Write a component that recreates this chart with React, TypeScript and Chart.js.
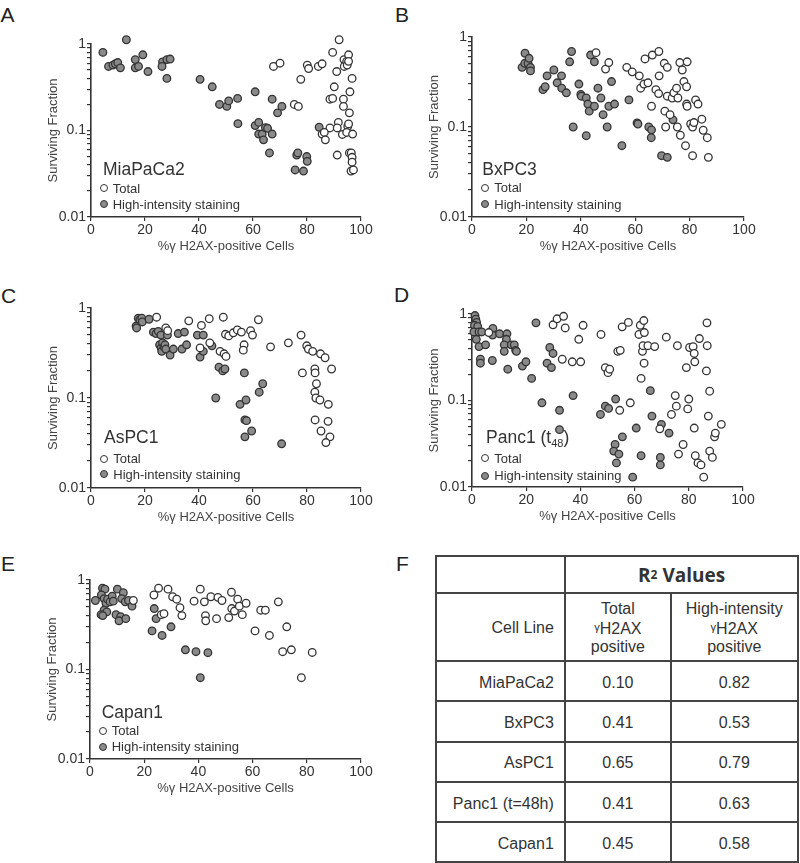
import React, { useEffect, useRef } from "react";
import { Chart, registerables } from "chart.js";

Chart.register(...registerables);

const FONT = '"Liberation Sans", Arial, Helvetica, sans-serif';

// ---- axes / labels ----
const xTickValues = [0, 20, 40, 60, 80, 100];
const yTickValues = [0.01, 0.02, 0.03, 0.04, 0.05, 0.06, 0.07, 0.08, 0.09, 0.1, 0.2, 0.3, 0.4, 0.5, 0.6, 0.7, 0.8, 0.9, 1];
const yLabelValues = [0.01, 0.1, 1];
const yLabelTexts = ["0.01", "0.1", "1"];
const xTitle = "%γ H2AX-positive Cells";
const yTitle = "Surviving Fraction";
const legendTotal = "Total";
const legendHigh = "High-intensity staining";

// ---- A: MiaPaCa2 ----
const miaHighX = [4.4, 13.1, 6.5, 8.1, 9.0, 9.9, 10.9, 16.4, 16.4, 17.6, 19.2, 21.1, 26.5, 26.3, 28.1, 29.3, 28.1, 40.4, 44.9, 47.6, 50.3, 51.0, 54.3, 54.4, 60.8, 60.8, 62.1, 62.1, 63.4, 63.9, 64.6, 65.4, 66.1, 67.1, 67.1, 69.1, 70.7, 75.6, 76.2, 76.6, 78.7, 79.9, 80.1, 84.5];
const miaHighY = [0.80, 1.12, 0.55, 0.57, 0.59, 0.61, 0.53, 0.66, 0.53, 0.55, 0.75, 0.48, 0.62, 0.55, 0.66, 0.67, 0.40, 0.39, 0.32, 0.20, 0.19, 0.22, 0.235, 0.12, 0.28, 0.114, 0.124, 0.091, 0.091, 0.078, 0.108, 0.106, 0.055, 0.23, 0.091, 0.16, 0.19, 0.035, 0.052, 0.055, 0.034, 0.050, 0.044, 0.109];
const miaTotalX = [67.6, 70.0, 77.7, 75.3, 76.8, 80.1, 80.6, 84.2, 85.6, 89.5, 91.9, 88.5, 89.5, 90.1, 91.0, 93.5, 93.5, 93.7, 93.8, 94.7, 94.9, 95.4, 95.4, 95.9, 95.7, 96.7, 88.5, 91.6, 91.2, 93.1, 95.1, 95.4, 94.7, 96.9, 85.6, 86.4, 86.8, 91.2, 95.7, 96.4, 96.7, 96.7, 96.3, 97.2];
const miaTotalY = [0.55, 0.60, 0.39, 0.20, 0.19, 0.57, 0.52, 0.55, 0.59, 0.80, 1.12, 0.23, 0.235, 0.32, 0.48, 0.23, 0.19, 0.66, 0.55, 0.63, 0.57, 0.75, 0.63, 0.28, 0.16, 0.40, 0.107, 0.124, 0.107, 0.090, 0.112, 0.119, 0.095, 0.091, 0.091, 0.095, 0.078, 0.052, 0.055, 0.055, 0.049, 0.043, 0.034, 0.035];

// ---- B: BxPC3 ----
const bxHighX = [19.5, 18.4, 19.4, 20.6, 21.0, 21.5, 21.5, 26.1, 26.9, 27.6, 30.1, 31.3, 32.9, 33.0, 34.7, 35.9, 36.6, 37.2, 39.3, 40.0, 40.2, 42.0, 42.0, 42.6, 43.1, 43.6, 45.0, 45.0, 46.3, 47.4, 48.2, 49.7, 50.3, 51.3, 52.4, 55.1, 57.7, 60.7, 61.0, 65.0, 66.0, 65.9, 69.7, 71.8, 73.9];
const bxHighY = [0.66, 0.46, 0.51, 0.51, 0.58, 0.46, 0.42, 0.26, 0.28, 0.37, 0.43, 0.31, 0.37, 0.27, 0.24, 0.53, 0.69, 0.10, 0.30, 0.23, 0.22, 0.21, 0.080, 0.18, 0.15, 0.63, 0.53, 0.17, 0.27, 0.21, 0.137, 0.10, 0.17, 0.32, 0.18, 0.062, 0.20, 0.111, 0.108, 0.10, 0.093, 0.076, 0.048, 0.046, 0.12];
const bxTotalX = [45.6, 49.1, 50.3, 56.9, 58.9, 61.5, 62.0, 63.2, 63.6, 64.7, 66.3, 66.0, 67.6, 68.7, 68.8, 68.6, 70.7, 71.8, 70.9, 71.2, 71.8, 72.8, 73.6, 74.2, 75.2, 75.7, 75.5, 76.4, 76.6, 77.3, 77.9, 78.5, 78.9, 79.1, 78.9, 79.1, 80.4, 81.1, 81.1, 81.6, 82.2, 83.1, 84.5, 85.0, 86.5, 86.9];
const bxTotalY = [0.67, 0.44, 0.52, 0.46, 0.41, 0.37, 0.27, 0.30, 0.57, 0.31, 0.63, 0.17, 0.26, 0.69, 0.37, 0.235, 0.51, 0.46, 0.15, 0.10, 0.22, 0.137, 0.21, 0.24, 0.27, 0.21, 0.10, 0.52, 0.081, 0.43, 0.32, 0.062, 0.28, 0.53, 0.18, 0.17, 0.108, 0.10, 0.048, 0.112, 0.20, 0.18, 0.122, 0.092, 0.076, 0.046];

// ---- C: AsPC1 ----
const asHighX = [16.7, 16.9, 17.5, 18.1, 18.8, 19.0, 21.5, 23.1, 24.1, 24.9, 25.9, 25.4, 26.0, 26.2, 26.5, 27.0, 27.4, 27.7, 28.3, 29.3, 30.5, 32.3, 33.7, 34.6, 35.4, 39.4, 40.4, 41.6, 41.6, 44.8, 46.2, 47.4, 48.8, 49.6, 55.2, 56.8, 57.0, 57.4, 57.6, 57.0, 59.5, 62.3, 63.6, 70.6];
const asHighY = [0.63, 0.60, 0.77, 0.74, 0.77, 0.70, 0.75, 0.54, 0.52, 0.55, 0.50, 0.39, 0.36, 0.33, 0.41, 0.37, 0.39, 0.35, 0.50, 0.30, 0.35, 0.52, 0.35, 0.54, 0.39, 0.50, 0.285, 0.50, 0.33, 0.38, 0.10, 0.22, 0.20, 0.21, 0.085, 0.19, 0.057, 0.095, 0.056, 0.037, 0.043, 0.116, 0.144, 0.031];
const asTotalX = [24.3, 27.7, 28.4, 36.2, 40.9, 40.4, 43.8, 44.0, 47.8, 49.0, 49.3, 50.0, 49.8, 51.0, 52.7, 54.2, 55.7, 56.7, 56.4, 59.1, 59.8, 62.0, 66.5, 73.1, 77.8, 78.3, 79.9, 80.5, 82.1, 82.9, 83.0, 83.5, 82.9, 83.3, 84.8, 85.0, 86.7, 87.9, 83.0, 87.8, 85.2, 88.5, 87.0, 89.1];
const asTotalY = [0.79, 0.60, 0.56, 0.72, 0.64, 0.36, 0.76, 0.41, 0.33, 0.79, 0.31, 0.29, 0.51, 0.49, 0.53, 0.57, 0.54, 0.39, 0.34, 0.56, 0.50, 0.74, 0.37, 0.41, 0.50, 0.19, 0.38, 0.35, 0.33, 0.21, 0.19, 0.144, 0.116, 0.10, 0.095, 0.31, 0.28, 0.085, 0.057, 0.055, 0.043, 0.037, 0.032, 0.21];

// ---- D: Panc1 (t48) ----
const panHighX = [1.1, 1.4, 1.7, 0.9, 2.1, 0.7, 2.6, 1.6, 3.6, 2.6, 5.0, 3.1, 3.1, 7.7, 7.6, 7.5, 10.2, 12.9, 12.7, 11.9, 11.9, 13.2, 14.5, 15.6, 16.1, 16.4, 18.6, 19.9, 23.6, 22.0, 25.8, 27.7, 28.7, 29.3, 29.9, 32.3, 32.3, 37.3, 47.4, 49.2, 50.4, 53.0, 52.8, 52.3, 53.3, 54.2, 55.5, 60.6, 62.4, 65.8, 66.4, 69.9, 69.5, 69.5, 72.7, 59.3];
const panHighY = [0.96, 0.87, 0.80, 0.74, 0.72, 0.62, 0.62, 0.51, 0.62, 0.42, 0.44, 0.30, 0.27, 0.68, 0.57, 0.29, 0.59, 0.59, 0.51, 0.44, 0.37, 0.23, 0.44, 0.44, 0.38, 0.37, 0.25, 0.28, 0.79, 0.18, 0.094, 0.27, 0.41, 0.24, 0.35, 0.077, 0.046, 0.114, 0.069, 0.086, 0.081, 0.104, 0.031, 0.026, 0.019, 0.024, 0.038, 0.048, 0.023, 0.13, 0.066, 0.053, 0.022, 0.018, 0.042, 0.013];
const panTotalX = [6.2, 29.9, 31.4, 33.8, 34.4, 33.3, 37.0, 40.1, 39.4, 41.0, 47.6, 49.2, 50.2, 50.8, 53.8, 54.7, 55.4, 57.7, 54.5, 58.4, 61.6, 62.1, 63.4, 63.6, 62.9, 63.1, 63.5, 62.4, 64.9, 67.4, 71.7, 69.3, 75.8, 75.0, 75.4, 73.6, 77.9, 76.2, 79.1, 79.6, 80.0, 80.3, 81.6, 82.0, 82.2, 82.0, 82.4, 83.4, 83.9, 84.5, 86.7, 86.8, 86.5, 87.2, 87.7, 87.7, 88.7, 85.5, 89.5, 89.8, 92.0];
const panTotalY = [0.61, 0.75, 0.88, 0.94, 0.69, 0.30, 0.28, 0.28, 0.51, 0.74, 0.58, 0.24, 0.21, 0.23, 0.37, 0.38, 0.71, 0.80, 0.077, 0.094, 0.58, 0.74, 0.84, 0.61, 0.37, 0.43, 0.27, 0.18, 0.43, 0.42, 0.54, 0.047, 0.43, 0.114, 0.086, 0.069, 0.031, 0.024, 0.24, 0.080, 0.104, 0.41, 0.42, 0.35, 0.28, 0.048, 0.023, 0.019, 0.52, 0.018, 0.79, 0.43, 0.22, 0.066, 0.128, 0.026, 0.022, 0.013, 0.038, 0.042, 0.053];

// ---- E: Capan1 ----
const capHighX = [2.0, 4.6, 5.5, 4.2, 5.2, 5.9, 6.5, 7.4, 8.2, 8.6, 5.2, 6.2, 4.1, 4.7, 10.1, 12.3, 11.7, 13.0, 14.2, 15.5, 9.6, 11.3, 10.7, 13.2, 23.7, 22.9, 24.4, 26.6, 29.9, 35.2, 39.1, 43.5, 40.7];
const capHighY = [0.59, 0.81, 0.79, 0.68, 0.62, 0.55, 0.61, 0.57, 0.66, 0.58, 0.46, 0.44, 0.41, 0.40, 0.79, 0.72, 0.62, 0.57, 0.59, 0.51, 0.41, 0.39, 0.35, 0.37, 0.48, 0.27, 0.37, 0.24, 0.30, 0.166, 0.158, 0.154, 0.081];
const capTotalX = [16.0, 23.6, 25.3, 26.3, 27.3, 28.8, 30.5, 32.0, 33.2, 33.9, 38.4, 40.7, 42.2, 42.6, 42.7, 44.6, 46.7, 47.2, 48.7, 51.2, 52.2, 52.3, 53.3, 54.5, 55.1, 56.2, 57.6, 60.9, 63.0, 64.7, 66.2, 69.5, 72.6, 71.1, 74.3, 78.0, 82.0];
const capTotalY = [0.59, 0.68, 0.81, 0.41, 0.42, 0.79, 0.65, 0.61, 0.49, 0.40, 0.58, 0.79, 0.57, 0.40, 0.35, 0.65, 0.37, 0.64, 0.59, 0.38, 0.73, 0.48, 0.45, 0.61, 0.51, 0.41, 0.55, 0.27, 0.46, 0.46, 0.24, 0.57, 0.30, 0.158, 0.166, 0.081, 0.155];

// ---- F: table ----
const tableCellLines = ["MiaPaCa2", "BxPC3", "AsPC1", "Panc1 (t=48h)", "Capan1"];
const r2Total = ["0.10", "0.41", "0.65", "0.41", "0.45"];
const r2High = ["0.82", "0.53", "0.79", "0.63", "0.58"];

// ---- layout ----
const Y_BOX = 62;
const X_BOX = 42;
const PAD_T = 12;
const PAD_R = 16;
const OPEN_FILL = "#ffffff";
const HIGH_FILL = "#8a8a8a";
const EDGE = "#333333";

type PanelSpec = {
  letter: string;
  letterX: number;
  letterY: number;
  name: React.ReactNode;
  plot: [number, number, number, number];
  nameX: number;
  nameY: number;
  dotX: number;
  dotY1: number;
  dotY2: number;
  legTextX: number;
  totalX: number[];
  totalY: number[];
  highX: number[];
  highY: number[];
};

function zip(xs: number[], ys: number[]) {
  return xs.map((x, i) => ({ x, y: ys[i] }));
}

function Txt(props: {
  x: number;
  y: number;
  size: number;
  children: React.ReactNode;
  align?: "left" | "center" | "right";
  family?: string;
  weight?: number;
  color?: string;
  capK?: number;
}) {
  const { x, y, size, children, align = "left", family = FONT, weight = 400, color = "#333", capK = 0.4885 } = props;
  const style: React.CSSProperties = {
    position: "absolute",
    left: x,
    top: y - capK * size,
    fontSize: size,
    lineHeight: `${size}px`,
    fontFamily: family,
    fontWeight: weight,
    color,
    whiteSpace: "nowrap",
  };
  if (align === "center") style.transform = "translateX(-50%)";
  if (align === "right") style.transform = "translateX(-100%)";
  return <div style={style}>{children}</div>;
}

function Dot({ x, y, fill }: { x: number; y: number; fill: string }) {
  const d = 8;
  return (
    <div
      style={{
        position: "absolute",
        left: x - d / 2,
        top: y - d / 2,
        width: d,
        height: d,
        boxSizing: "border-box",
        borderRadius: "50%",
        border: `1.4px solid ${EDGE}`,
        background: fill,
      }}
    />
  );
}

function ScatterPanel({ p }: { p: PanelSpec }) {
  const ref = useRef<HTMLCanvasElement | null>(null);
  const [pl, pt, pr, pb] = p.plot;
  const cl = pl - Y_BOX;
  const ct = pt - PAD_T;
  const cw = Math.round(pr + PAD_R - cl);
  const ch = Math.round(pb + X_BOX - ct);

  useEffect(() => {
    if (!ref.current) return;
    const tickFont = { family: FONT, size: 14 };
    const titleFont = { family: FONT, size: 13 };
    const chart = new Chart(ref.current, {
      type: "scatter",
      data: {
        datasets: [
          {
            label: legendTotal,
            data: zip(p.totalX, p.totalY),
            pointRadius: 3.8,
            pointBorderWidth: 1.3,
            pointBackgroundColor: OPEN_FILL,
            pointBorderColor: EDGE,
            clip: false,
          } as any,
          {
            label: legendHigh,
            data: zip(p.highX, p.highY),
            pointRadius: 3.8,
            pointBorderWidth: 1.3,
            pointBackgroundColor: HIGH_FILL,
            pointBorderColor: EDGE,
            clip: false,
          } as any,
        ],
      },
      options: {
        animation: false,
        responsive: false,
        maintainAspectRatio: false,
        devicePixelRatio: 1,
        events: [],
        layout: { padding: { left: 0, top: PAD_T, right: PAD_R, bottom: 0 } },
        plugins: { legend: { display: false }, tooltip: { enabled: false }, title: { display: false } },
        scales: {
          x: {
            type: "linear",
            position: "bottom",
            min: 0,
            max: 100,
            afterBuildTicks: (s: any) => {
              s.ticks = xTickValues.map((v) => ({ value: v }));
            },
            afterFit: (s: any) => {
              s.height = X_BOX;
            },
            ticks: { autoSkip: false, maxRotation: 0, padding: 1, color: "#333", font: tickFont },
            grid: { drawOnChartArea: false, drawTicks: true, tickLength: 4, color: EDGE, lineWidth: 1.2 },
            border: { display: true, color: EDGE, width: 1.6 },
            title: { display: true, text: xTitle, color: "#444", font: titleFont, padding: { top: 0, bottom: 4.8 } },
          },
          y: {
            type: "logarithmic",
            position: "left",
            min: 0.01,
            max: 1,
            afterBuildTicks: (s: any) => {
              s.ticks = yTickValues.map((v) => ({ value: v }));
            },
            afterFit: (s: any) => {
              s.width = Y_BOX;
            },
            ticks: {
              autoSkip: false,
              padding: 1,
              color: "#333",
              font: tickFont,
              callback: (v: any) => {
                const i = yLabelValues.findIndex((m) => Math.abs(m - Number(v)) < 1e-9);
                return i >= 0 ? yLabelTexts[i] : "";
              },
            },
            grid: { drawOnChartArea: false, drawTicks: true, tickLength: 4, color: EDGE, lineWidth: 1.2 },
            border: { display: true, color: EDGE, width: 1.6 },
            title: { display: true, text: yTitle, color: "#444", font: titleFont, padding: { top: 16.2, bottom: 0 } },
          },
        },
      } as any,
    });
    return () => chart.destroy();
  }, []);

  return (
    <>
      <canvas
        ref={ref}
        width={cw}
        height={ch}
        style={{ position: "absolute", left: cl, top: ct, width: cw, height: ch, display: "block" }}
      />
      <Txt x={p.letterX} y={p.letterY} size={21} color="#222">
        {p.letter}
      </Txt>
      <Txt x={p.nameX} y={p.nameY} size={17.5} color="#333">
        {p.name}
      </Txt>
      <Dot x={p.dotX} y={p.dotY1} fill={OPEN_FILL} />
      <Dot x={p.dotX} y={p.dotY2} fill={HIGH_FILL} />
      <Txt x={p.legTextX} y={p.dotY1} size={13} color="#333">
        {legendTotal}
      </Txt>
      <Txt x={p.legTextX} y={p.dotY2} size={13} color="#333">
        {legendHigh}
      </Txt>
    </>
  );
}

const panels: PanelSpec[] = [
  {
    letter: "A", letterX: 0.5, letterY: 14.2, name: "MiaPaCa2",
    plot: [90.7, 44.3, 361, 217.3],
    nameX: 103, nameY: 169.5, dotX: 103.7, dotY1: 188, dotY2: 204, legTextX: 112.7,
    totalX: miaTotalX, totalY: miaTotalY, highX: miaHighX, highY: miaHighY,
  },
  {
    letter: "B", letterX: 395, letterY: 14.2, name: "BxPC3",
    plot: [471.7, 37.3, 743.3, 217.3],
    nameX: 482.3, nameY: 169.2, dotX: 485, dotY1: 187.7, dotY2: 204, legTextX: 494.3,
    totalX: bxTotalX, totalY: bxTotalY, highX: bxHighX, highY: bxHighY,
  },
  {
    letter: "C", letterX: 1, letterY: 295, name: "AsPC1",
    plot: [91, 307.7, 361, 487.3],
    nameX: 104, nameY: 438, dotX: 104, dotY1: 458.7, dotY2: 474.3, legTextX: 113.3,
    totalX: asTotalX, totalY: asTotalY, highX: asHighX, highY: asHighY,
  },
  {
    letter: "D", letterX: 394, letterY: 294.5,
    name: (
      <>
        Panc1 (t<span style={{ fontSize: 11, position: "relative", top: 4 }}>48</span>)
      </>
    ),
    plot: [471.7, 314.3, 742.7, 487.7],
    nameX: 486, nameY: 438, dotX: 484.7, dotY1: 458.3, dotY2: 475.7, legTextX: 494.3,
    totalX: panTotalX, totalY: panTotalY, highX: panHighX, highY: panHighY,
  },
  {
    letter: "E", letterX: 1, letterY: 563.5, name: "Capan1",
    plot: [90, 580, 361, 759.3],
    nameX: 101.7, nameY: 712.5, dotX: 102.7, dotY1: 730.7, dotY2: 746.7, legTextX: 111.7,
    totalX: capTotalX, totalY: capTotalY, highX: capHighX, highY: capHighY,
  },
];

// table geometry
const TB_H = [555.5, 592.5, 661, 701.3, 741.7, 782, 822.3, 861.8];
const TB_L = 435.7;
const TB_C1 = 565.3;
const TB_C2 = 670.5;
const TB_R = 798;
const LINE = "#444";

function R2Table() {
  const lines: React.ReactNode[] = [];
  TB_H.forEach((y, i) => {
    lines.push(
      <div key={"h" + i} style={{ position: "absolute", left: TB_L - 1, top: y - 1, width: TB_R - TB_L + 2, height: 2, background: LINE }} />
    );
  });
  const vLine = (x: number, y0: number, y1: number, k: string) => (
    <div key={k} style={{ position: "absolute", left: x - 1, top: y0 - 1, width: 2, height: y1 - y0 + 2, background: LINE }} />
  );
  lines.push(vLine(TB_L, TB_H[0], TB_H[7], "v0"));
  lines.push(vLine(TB_C1, TB_H[0], TB_H[7], "v1"));
  lines.push(vLine(TB_C2, TB_H[1], TB_H[7], "v2"));
  lines.push(vLine(TB_R, TB_H[0], TB_H[7], "v3"));

  const c2 = (TB_C1 + TB_C2) / 2;
  const c3 = (TB_C2 + TB_R) / 2;
  const gamma = <span style={{ fontSize: 11, position: "relative", top: -3 }}>γ</span>;
  return (
    <>
      {lines}
      <Txt x={(TB_C1 + TB_R) / 2} y={576} size={19} align="center" weight={700} family='"Open Sans", "Liberation Sans", sans-serif' color="#333" capK={0.531}>
        R<sup style={{ fontSize: 12, verticalAlign: "top", position: "relative", top: -1 }}>2</sup> Values
      </Txt>
      <Txt x={TB_C1 - 11.5} y={628.3} size={16} align="right">Cell Line</Txt>
      <Txt x={c2} y={609.3} size={16} align="center">Total</Txt>
      <Txt x={c2} y={629.3} size={16} align="center">{gamma}H2AX</Txt>
      <Txt x={c2} y={647.3} size={16} align="center">positive</Txt>
      <Txt x={c3} y={609.3} size={16} align="center">High-intensity</Txt>
      <Txt x={c3} y={629.3} size={16} align="center">{gamma}H2AX</Txt>
      <Txt x={c3} y={647.3} size={16} align="center">positive</Txt>
      {tableCellLines.map((name, i) => {
        const y = (TB_H[i + 2] + TB_H[i + 3]) / 2 + 1.3;
        return (
          <React.Fragment key={name}>
            <Txt x={TB_C1 - 11.5} y={y} size={16} align="right">{name}</Txt>
            <Txt x={c2} y={y} size={16} align="center">{r2Total[i]}</Txt>
            <Txt x={c3} y={y} size={16} align="center">{r2High[i]}</Txt>
          </React.Fragment>
        );
      })}
      <Txt x={396} y={563} size={21} color="#222">F</Txt>
    </>
  );
}

export default function App() {
  return (
    <div style={{ position: "absolute", left: 0, top: 0, width: 800, height: 863, background: "#fff", overflow: "hidden", fontFamily: FONT }}>
      {panels.map((p) => (
        <ScatterPanel key={p.letter} p={p} />
      ))}
      <R2Table />
    </div>
  );
}
